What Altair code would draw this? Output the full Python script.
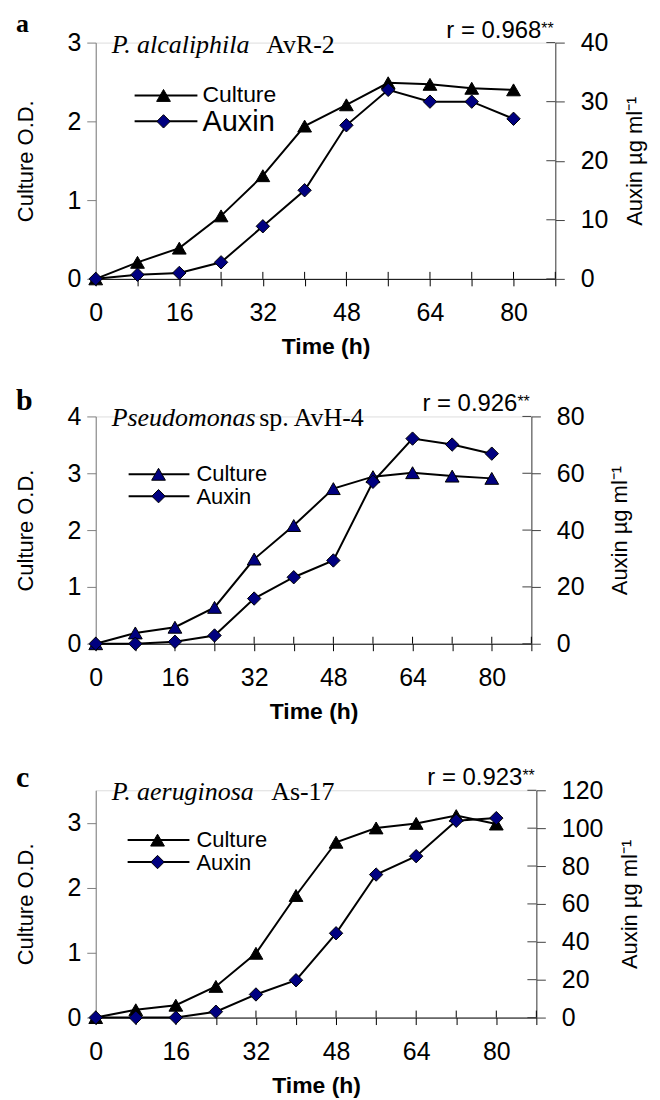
import altair as alt
import pandas as pd

# ---------------- data ----------------
hours = [0, 8, 16, 24, 32, 40, 48, 56, 64, 72, 80]
culture_a = [0, 0.21, 0.39, 0.80, 1.31, 1.94, 2.21, 2.49, 2.47, 2.42, 2.40]
auxin_a = [0, 0.7, 1.0, 2.8, 8.9, 15.0, 26.0, 32.0, 30.0, 30.0, 27.1]
culture_b = [0, 0.19, 0.29, 0.64, 1.49, 2.08, 2.73, 2.94, 3.01, 2.95, 2.91]
auxin_b = [0, 0, 0.7, 2.9, 15.9, 23.4, 29.3, 57.0, 72.2, 70.1, 66.9]
culture_c = [0, 0.12, 0.19, 0.48, 0.99, 1.88, 2.70, 2.92, 2.99, 3.11, 2.98]
auxin_c = [0, 0, 0, 3.1, 12.2, 19.7, 44.5, 75.5, 85.2, 103.9, 105.3]

x_ticks = [0, 8, 16, 24, 32, 40, 48, 56, 64, 72, 80, 88]
x_labels = [0, 16, 32, 48, 64, 80]
culture_ticks = [0, 1, 2, 3, 4]
auxin_ticks_a = [0, 10, 20, 30, 40]
auxin_ticks_b = [0, 20, 40, 60, 80]
auxin_ticks_c = [0, 20, 40, 60, 80, 100, 120]

panel_letters = ["a", "b", "c"]
species_italic = ["P. alcaliphila", "Pseudomonas", "P. aeruginosa"]
species_roman = ["AvR-2", "sp. AvH-4", "As-17"]
r_values = ["r = 0.968", "r = 0.926", "r = 0.923"]
legend_labels = ["Culture", "Auxin"]

SANS = "Liberation Sans"
SERIF = "Liberation Serif"
NAVY = "#000080"


def one():
    return pd.DataFrame({"k": [0]})


def panel(letter, sp_it, sp_rm, rtext, culture, auxin, cmax, amax, cticks,
          aticks, width, height, tri_fill, leg, leg_sizes, sp_rm_x, a_title_pad):
    df = pd.DataFrame({"Time": hours, "Culture": culture, "Auxin": auxin})
    xs = alt.Scale(domain=[0, 88], nice=False, zero=False)
    x_axis = alt.Axis(
        values=x_ticks,
        labelExpr="indexof(" + str(x_labels) + ", datum.value) >= 0 ? datum.label : ''",
        tickSize=7, tickColor="black", domainColor="black",
        labelFontSize=25, labelFont=SANS, labelColor="black", labelPadding=15,
        labelFlush=False, labelOverlap=False,
        title="Time (h)", titleFont=SANS, titleFontSize=23, titleFontWeight="bold",
        titleColor="black", titlePadding=10, grid=False,
    )
    x = alt.X("Time:Q", scale=xs, axis=x_axis)

    c_axis = alt.Axis(
        orient="left", values=[v for v in cticks if v <= cmax], tickSize=9,
        tickColor="#808080", domainColor="#808080", labelFontSize=25,
        labelFont=SANS, labelColor="black", labelPadding=6, grid=False,
        title="Culture O.D.", titleFont=SANS, titleFontSize=22,
        titleFontWeight="normal", titleColor="black", titlePadding=30,
    )
    cy = alt.Y("Culture:Q", scale=alt.Scale(domain=[0, cmax], nice=False), axis=c_axis)

    a_axis = alt.Axis(
        orient="right", values=aticks, tickSize=9, tickColor="#404040",
        domainColor="#404040", labelFontSize=25, labelFont=SANS,
        labelColor="black", labelPadding=16, grid=False,
        title="Auxin µg ml⁻¹", titleFont=SANS, titleFontSize=22,
        titleFontWeight="normal", titleColor="black", titlePadding=a_title_pad,
        titleAngle=270, titleBaseline="top",
    )
    ay = alt.Y("Auxin:Q", scale=alt.Scale(domain=[0, amax], nice=False), axis=a_axis)

    base = alt.Chart(df)
    c_line = base.mark_line(color="black", strokeWidth=2).encode(x=x, y=cy)
    c_pts = base.mark_point(shape="triangle-up", filled=True, size=190, fill=tri_fill,
                            stroke="black", strokeWidth=1, opacity=1).encode(x=x, y=cy)
    xtick_in = alt.Chart(pd.DataFrame({"Time": x_ticks})).mark_rule(
        color="black", strokeWidth=1).encode(
        x=x, y=alt.value(height - 7), y2=alt.value(height))

    # legend and annotation texts
    (lx1, lx2, lmx, ltx, ly1, ly2) = leg
    leg_marks = [
        alt.Chart(one()).mark_rule(color="black", strokeWidth=2).encode(
            x=alt.value(lx1), x2=alt.value(lx2), y=alt.value(ly1)),
        alt.Chart(one()).mark_rule(color="black", strokeWidth=2).encode(
            x=alt.value(lx1), x2=alt.value(lx2), y=alt.value(ly2)),
        alt.Chart(one()).mark_point(shape="triangle-up", filled=True, size=190,
                                    fill=tri_fill, stroke="black", strokeWidth=1,
                                    opacity=1).encode(x=alt.value(lmx), y=alt.value(ly1)),
        alt.Chart(one()).mark_point(shape="diamond", filled=True, size=180,
                                    fill=NAVY, stroke="black", strokeWidth=1,
                                    opacity=1).encode(x=alt.value(lmx), y=alt.value(ly2)),
        alt.Chart(one()).mark_text(font=SANS, fontSize=leg_sizes[0], align="left",
                                   baseline="middle", color="black").encode(
            x=alt.value(ltx), y=alt.value(ly1), text=alt.value(legend_labels[0])),
        alt.Chart(one()).mark_text(font=SANS, fontSize=leg_sizes[1], align="left",
                                   baseline="middle", color="black").encode(
            x=alt.value(ltx), y=alt.value(ly2 + 1), text=alt.value(legend_labels[1])),
        alt.Chart(one()).mark_text(font=SERIF, fontSize=letter[2], fontWeight="bold",
                                   align="left", baseline="alphabetic",
                                   color="black").encode(
            x=alt.value(-80), y=alt.value(letter[1]), text=alt.value(letter[0])),
        alt.Chart(one()).mark_text(font=SERIF, fontSize=26, fontStyle="italic",
                                   align="left", baseline="alphabetic",
                                   color="black").encode(
            x=alt.value(16), y=alt.value(10), text=alt.value(sp_it)),
        alt.Chart(one()).mark_text(font=SERIF, fontSize=26, align="left",
                                   baseline="alphabetic", color="black").encode(
            x=alt.value(sp_rm_x), y=alt.value(10), text=alt.value(sp_rm)),
        alt.Chart(one()).mark_text(font=SANS, fontSize=24, align="right",
                                   baseline="alphabetic", color="black").encode(
            x=alt.value(width - 14), y=alt.value(-5), text=alt.value(rtext)),
        alt.Chart(one()).mark_text(font=SANS, fontSize=16, align="left",
                                   baseline="alphabetic", color="black").encode(
            x=alt.value(width - 14), y=alt.value(-9), text=alt.value("**")),
    ]

    left = alt.layer(c_line, xtick_in, c_pts, *leg_marks)

    a_line = base.mark_line(color="black", strokeWidth=2).encode(x=x, y=ay)
    a_pts = base.mark_point(shape="diamond", filled=True, size=180, fill=NAVY,
                            stroke="black", strokeWidth=1, opacity=1).encode(x=x, y=ay)
    atick_in = alt.Chart(pd.DataFrame({"Auxin": aticks})).mark_rule(
        color="#404040", strokeWidth=1).encode(
        y=ay, x=alt.value(width - 9), x2=alt.value(width))
    right = alt.layer(a_line, a_pts, atick_in)

    return alt.layer(left, right).resolve_scale(y="independent").properties(
        width=width, height=height)


pa = panel((panel_letters[0], -11, 26), species_italic[0], species_roman[0], r_values[0],
           culture_a, auxin_a, 3, 40, culture_ticks, auxin_ticks_a, 461, 237,
           "black", (39, 102, 68, 107, 53, 79), (23, 29), 171, 17)
pb = panel((panel_letters[1], -6, 30), species_italic[1], species_roman[1], r_values[1],
           culture_b, auxin_b, 4, 80, culture_ticks, auxin_ticks_b, 437, 228,
           NAVY, (33, 94, 63, 101, 58, 80), (22, 22), 164, 26)
pc = panel((panel_letters[2], -3, 30), species_italic[2], species_roman[2], r_values[2],
           culture_c, auxin_c, 3.5, 120, culture_ticks, auxin_ticks_c, 442, 228,
           "black", (32, 94, 62, 101, 50, 72), (22, 22), 176, 17)

inner = alt.vconcat(pb, pc, spacing=147, bounds="flush")
chart = alt.vconcat(pa, inner, spacing=138, bounds="flush").properties(
    padding={"left": 5, "top": 0, "right": 5, "bottom": 5}
).configure_view(stroke=None).configure(background="white")

chart.save("out.html", embed_options={"renderer": "svg", "actions": False})
